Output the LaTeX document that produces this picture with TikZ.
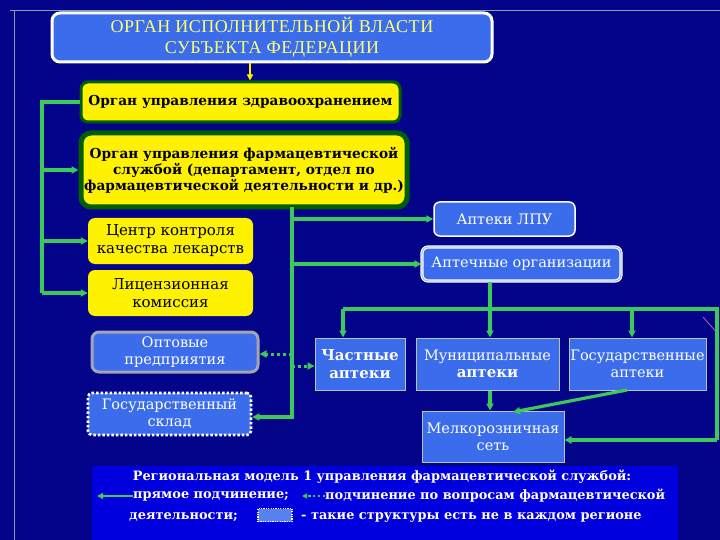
\documentclass[tikz,border=0pt]{standalone}
\usepackage{fontspec}
\setmainfont{DejaVu Serif}
\newfontfamily\titlefont[LetterSpace=3]{Liberation Serif}
\usetikzlibrary{arrows.meta}
\definecolor{bgblue}{RGB}{4,4,138}
\definecolor{boxblue}{RGB}{58,108,236}
\definecolor{legblue}{RGB}{0,0,222}
\definecolor{lgreen}{RGB}{60,200,90}
\definecolor{dgreen}{RGB}{0,95,0}
\definecolor{ytext}{RGB}{255,255,110}
\definecolor{optgray}{RGB}{165,165,175}
\definecolor{rectedge}{RGB}{175,200,175}
\definecolor{decoline}{RGB}{130,160,170}
\begin{document}
\begin{tikzpicture}[x=1pt,y=-1pt,
  ybox/.style={fill=yellow, rounded corners=7pt, align=center, text=black, inner sep=0pt,
    font=\bfseries\fontsize{13.7}{16}\selectfont},
  bbox/.style={fill=boxblue, align=center, text=white, inner sep=0pt,
    font=\fontsize{14.5}{17}\selectfont},
  rbox/.style={bbox, draw=rectedge, line width=1pt},
  conn/.style={draw=lgreen, line width=3.2pt},
  arr/.style={conn, -{Triangle[length=7pt,width=7pt]}},
  darr/.style={draw=lgreen, line width=3pt, dash pattern=on 3pt off 3pt, -{Triangle[length=7pt,width=7pt]}},
  legtext/.style={text=white, inner sep=0pt, font=\bfseries\fontsize{12.9}{14}\selectfont}
]
\fill[bgblue] (0,0) rectangle (720,540);
\useasboundingbox (0,0) rectangle (720,540);
% slide decoration
\draw[decoline, line width=0.8pt] (10,10) -- (720,10);
\draw[decoline, line width=0.8pt] (14,10) -- (14,540);
\draw[magenta!60!white, line width=0.6pt] (703,317) -- (718,334);

% top box
\node[fill=boxblue, draw=white, line width=3pt, rounded corners=8pt, minimum width=440pt, minimum height=49pt,
  align=center, text=ytext, inner sep=0pt, font=\titlefont\fontsize{18}{21}\selectfont]
  (top) at (272,37.5) {ОРГАН ИСПОЛНИТЕЛЬНОЙ ВЛАСТИ\\СУБЪЕКТА ФЕДЕРАЦИИ};

\node[ybox, draw=dgreen, line width=3pt, minimum width=319pt, minimum height=40pt] (zdrav) at (240.5,102)
  {Орган управления здравоохранением};
\node[ybox, draw=dgreen, line width=5pt, rounded corners=10pt, minimum width=326pt, minimum height=74pt] (pharm) at (244,170)
  {Орган управления фармацевтической\\службой (департамент, отдел по\\фармацевтической деятельности и др.)};
\node[ybox, font=\fontsize{15}{18}\selectfont, minimum width=165pt, minimum height=46pt] (centr) at (170.5,241)
  {Центр контроля\\качества лекарств};
\node[ybox, font=\fontsize{15}{18}\selectfont, minimum width=165pt, minimum height=46pt] (lic) at (170.5,293)
  {Лицензионная\\комиссия};

\node[bbox, draw=optgray, line width=3pt, rounded corners=7pt, minimum width=166pt, minimum height=40pt] (opt) at (175,352)
  {Оптовые\\предприятия};
\node[bbox, draw=white, line width=2.6pt, dash pattern=on 2.5pt off 2pt, rounded corners=4pt, minimum width=163pt, minimum height=42pt] (sklad) at (169.5,414)
  {Государственный\\склад};

\node[bbox, draw=white, line width=1.5pt, rounded corners=6pt, minimum width=141pt, minimum height=34pt] (lpu) at (504.5,219)
  {Аптеки ЛПУ};
\node[bbox, draw=white, double=boxblue!60!white, double distance=0.8pt, line width=1.2pt, rounded corners=6pt, minimum width=199pt, minimum height=34pt] (aptorg) at (521.5,264)
  {Аптечные организации};

\node[rbox, font=\bfseries\fontsize{15}{18}\selectfont, minimum width=90pt, minimum height=52pt] (chast) at (360,364)
  {Частные\\аптеки};
\node[rbox, minimum width=143pt, minimum height=52pt] (mun) at (487.5,364)
  {Муниципальные\\{\bfseries\fontsize{15}{18}\selectfont аптеки}};
\node[rbox, minimum width=137pt, minimum height=52pt] (gos) at (637.5,364)
  {Государственные\\аптеки};
\node[rbox, minimum width=142pt, minimum height=51pt] (melk) at (493,436.5)
  {Мелкорозничная\\сеть};

% left bus
\coordinate (lbT) at (42,102);
\coordinate (lbB) at (42,293);
\draw[conn] (zdrav.west) -- (lbT) -- (lbB);
\draw[arr] (lbT |- pharm.west) -- (pharm.west);
\draw[arr] (lbT |- centr.west) -- (centr.west);
\draw[arr] (lbB) -- (lic.west);

% top arrow
\draw[draw=yellow, line width=2pt, -{Triangle[length=6pt,width=6pt]}] (top.south -| 250,0) -- (zdrav.north -| 250,0);

% right bus
\coordinate (rbT) at (292,207);
\coordinate (rbB) at (292,417);
\draw[arr] (rbT) -- (rbB) -- (sklad.east |- rbB);
\draw[arr] (rbT |- lpu.west) -- (lpu.west);
\draw[arr] (rbT |- aptorg.west) -- (aptorg.west);
\coordinate (d1) at (292,354);
\coordinate (d2) at (292,366);
\draw[darr] (d1) -- (opt.east |- d1);
\draw[darr] (d2) -- (chast.west |- d2);

% distribution bus
\coordinate (busL) at (343,309);
\coordinate (busM) at (490,309);
\coordinate (busG) at (632,309);
\coordinate (busR) at (717,309);
\coordinate (busRB) at (717,440);
\draw[conn] (aptorg.south -| busM) -- (busM);
\draw[conn] (busL) -- (busR) -- (busRB);
\draw[arr] (busRB) -- (melk.east |- busRB);
\draw[arr] (busL) -- (chast.north -| busL);
\draw[arr] (busM) -- (mun.north -| busM);
\draw[arr] (busG) -- (gos.north -| busG);
\draw[arr] (mun.south -| busM) -- (melk.north -| busM);
\coordinate (gsd) at (627,390);
\coordinate (mkd) at (513,412);
\draw[arr] (gsd) -- (mkd);

% legend
\node[fill=legblue, minimum width=586pt, minimum height=75pt, inner sep=0pt] (legbox) at (385,503) {};
\node[legtext] (l1) at (382,477) {Региональная модель 1 управления фармацевтической службой:};
\node[legtext, anchor=west] (l2a) at (133,496) {прямое подчинение;};
\node[legtext, anchor=west] (l2b) at (325,496) {подчинение по вопросам фармацевтической};
\node[legtext, anchor=west] (l3a) at (129,517) {деятельности;};
\node[fill=boxblue!85!white, draw=white, line width=1.2pt, dash pattern=on 1.2pt off 1.2pt, minimum width=34pt, minimum height=13pt, inner sep=0pt] (l3box) at (275,515) {};
\node[legtext, anchor=west] (l3b) at (301,517) {- такие структуры есть не в каждом регионе};
\coordinate (la1) at (97,496);
\coordinate (la2) at (302,496);
\draw[conn, line width=2.6pt, -{Triangle[length=6pt,width=6pt]}] (l2a.west) -- (la1);
\draw[draw=lgreen, line width=2.4pt, dash pattern=on 2.4pt off 2.4pt, -{Triangle[length=5pt,width=5pt]}] (l2b.west) -- (la2);
\end{tikzpicture}
\end{document}
